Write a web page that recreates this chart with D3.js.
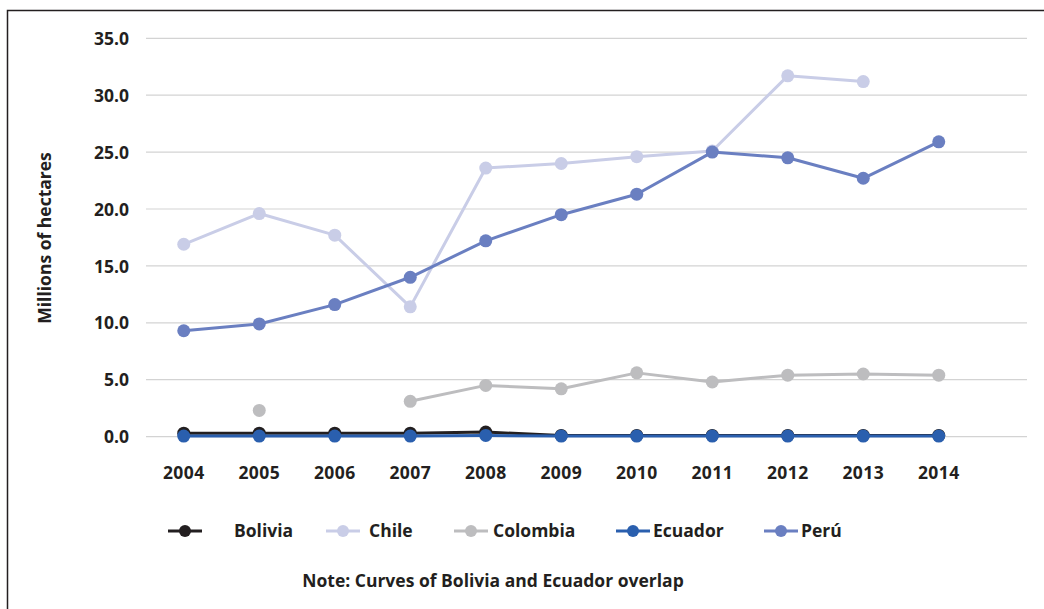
<!DOCTYPE html>
<html>
<head>
<meta charset="utf-8">
<script src="https://cdn.jsdelivr.net/npm/d3@7/dist/d3.min.js"></script>
<style>
  html, body { margin: 0; padding: 0; background: #fff; }
  svg { display: block; }
  text { font-family: "Open Sans", Lato, sans-serif; font-weight: 700; fill: #231f20; }
</style>
</head>
<body>
<svg id="chart" width="1044" height="609"></svg>
<script>
const years = [2004, 2005, 2006, 2007, 2008, 2009, 2010, 2011, 2012, 2013, 2014];
const yTicks = [0, 5, 10, 15, 20, 25, 30, 35];
const seriesNames = ["Bolivia", "Chile", "Colombia", "Ecuador", "Perú"];
const seriesColors = ["#231f20", "#c9cde7", "#bdbdbf", "#2a5fae", "#6a7fc1"];
const bolivia  = [0.3, 0.3, 0.3, 0.3, 0.4, 0.1, 0.1, 0.1, 0.1, 0.1, 0.1];
const chile    = [16.9, 19.6, 17.7, 11.4, 23.6, 24.0, 24.6, 25.1, 31.7, 31.2, null];
const colombia = [null, 2.3, null, 3.1, 4.5, 4.2, 5.6, 4.8, 5.4, 5.5, 5.4];
const ecuador  = [0.05, 0.05, 0.05, 0.05, 0.1, 0.05, 0.05, 0.05, 0.05, 0.05, 0.05];
const peru     = [9.3, 9.9, 11.6, 14.0, 17.2, 19.5, 21.3, 25.0, 24.5, 22.7, 25.9];
const seriesValues = [bolivia, chile, colombia, ecuador, peru];
const yAxisTitle = "Millions of hectares";
const note = "Note: Curves of Bolivia and Ecuador overlap";

// layout
const plotLeft = 146, plotRight = 1027, plotTop = 38.3, plotBottom = 436.6;
const legendSymbolX = [168, 326, 454, 616, 764];
const legendTextX = [234, 369, 493, 653, 801];
const legendY = 531;
const FONT = "'Open Sans', Lato, sans-serif";

const svg = d3.select("#chart");

// frame
svg.append("path")
  .attr("d", `M7.5,609 V10.5 H1044`)
  .attr("fill", "none").attr("stroke", "#231f20").attr("stroke-width", 1.5);

const x = d3.scaleBand().domain(years).range([plotLeft, plotLeft + 75.5 * years.length]).padding(0);
const xc = d => x(d) + x.bandwidth() / 2;
const y = d3.scaleLinear().domain([0, 35]).range([plotBottom, plotTop]);

// gridlines
svg.append("g").selectAll("line").data(yTicks).join("line")
  .attr("x1", plotLeft).attr("x2", plotRight)
  .attr("y1", d => y(d)).attr("y2", d => y(d))
  .attr("stroke", "#d3d3d3").attr("stroke-width", 1.2);

// y axis labels
const yAxis = d3.axisLeft(y).tickValues(yTicks).tickFormat(d3.format(".1f")).tickSize(0).tickPadding(0);
const gy = svg.append("g").attr("transform", `translate(${plotLeft - 17},0)`).call(yAxis);
gy.select(".domain").remove();
gy.selectAll("text").attr("font-size", 17.5).attr("font-family", FONT).attr("font-weight", 700).attr("fill", "#231f20").attr("dy", "0.35em");

// x axis labels
const xAxis = d3.axisBottom(x).tickSize(0).tickPadding(0);
const gx = svg.append("g").attr("transform", `translate(0,${plotBottom + 42})`).call(xAxis);
gx.select(".domain").remove();
gx.selectAll("text").attr("font-size", 17.5).attr("font-family", FONT).attr("font-weight", 700).attr("fill", "#231f20").attr("dy", 0)
  .attr("letter-spacing", 0.4);

// y title
svg.append("text")
  .attr("transform", `translate(51,238) rotate(-90)`)
  .attr("text-anchor", "middle")
  .attr("font-size", 17.5)
  .text(yAxisTitle);

// series
const line = d3.line()
  .defined(d => d.v !== null)
  .x(d => xc(d.year))
  .y(d => y(d.v));

seriesNames.forEach((name, i) => {
  const data = years.map((yr, j) => ({ year: yr, v: seriesValues[i][j] }));
  const g = svg.append("g");
  g.append("path").datum(data)
    .attr("d", line)
    .attr("fill", "none")
    .attr("stroke", seriesColors[i])
    .attr("stroke-width", 3)
    .attr("stroke-linejoin", "round");
  g.selectAll("circle").data(data.filter(d => d.v !== null)).join("circle")
    .attr("cx", d => xc(d.year)).attr("cy", d => y(d.v))
    .attr("r", 6.5).attr("fill", seriesColors[i]);
});

// legend
seriesNames.forEach((name, i) => {
  const g = svg.append("g");
  g.append("line")
    .attr("x1", legendSymbolX[i]).attr("x2", legendSymbolX[i] + 34)
    .attr("y1", legendY).attr("y2", legendY)
    .attr("stroke", seriesColors[i]).attr("stroke-width", 3);
  g.append("circle").attr("cx", legendSymbolX[i] + 17).attr("cy", legendY).attr("r", 6).attr("fill", seriesColors[i]);
  g.append("text").attr("x", legendTextX[i]).attr("y", legendY).attr("dy", "0.35em")
    .attr("font-size", 17.5).text(name);
});

// note
svg.append("text")
  .attr("x", 493).attr("y", 581).attr("dy", "0.35em")
  .attr("text-anchor", "middle")
  .attr("font-size", 17.5)
  .text(note);
</script>
</body>
</html>
